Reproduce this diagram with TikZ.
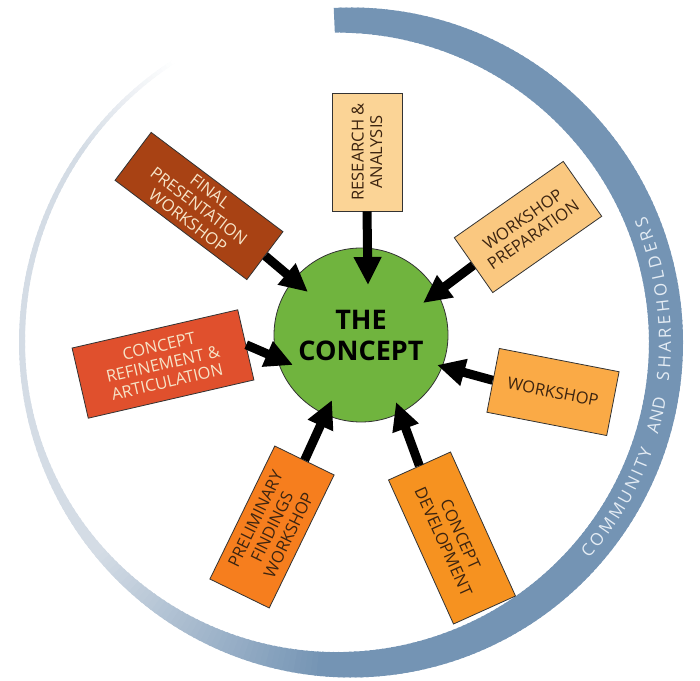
\documentclass[tikz,border=0pt]{standalone}
\usepackage{fontspec}
\setmainfont{Open Sans}
\usetikzlibrary{arrows.meta,calc,decorations.text}
\definecolor{ringblue}{RGB}{116,148,180}
\definecolor{ringgray}{RGB}{212,220,229}
\definecolor{ringtext}{RGB}{228,236,244}
\definecolor{concept}{RGB}{112,180,62}
\definecolor{peche}{RGB}{251,212,150}
\definecolor{sable}{RGB}{250,200,128}
\definecolor{rouille}{RGB}{168,66,20}
\definecolor{brique}{RGB}{224,80,45}
\definecolor{abricot}{RGB}{250,170,70}
\definecolor{orangeA}{RGB}{246,146,32}
\definecolor{orangeB}{RGB}{246,126,30}
\definecolor{brun}{RGB}{60,36,16}
\definecolor{creme}{RGB}{246,228,200}
\begin{document}
\begin{tikzpicture}[x=1pt,y=1pt]
\tikzset{boite/.style={draw=black!80, line width=0.8pt, align=center, inner sep=2pt, text=brun, font=\fontsize{16.5}{18.5}\selectfont},
  fleche/.style={line width=9pt, -{Triangle[length=28pt,width=26pt]}}}
\useasboundingbox (0,0) rectangle (700,680);
\coordinate (O) at (351,337.5);
\foreach \a in {93,92,...,-237}{
  \pgfmathsetmacro\w{(\a)<(-180) ? 6-2*((-180-(\a))/57) : 20+14*cos(\a)+5.5*sin(\a)^2}
  \pgfmathsetmacro\rx{332-\w/2}
  \pgfmathsetmacro\ry{335-\w/2}
  \pgfmathtruncatemacro\pb{(\a)>(-95) ? 100 : max(0,100-((-95-(\a))/45)*100)}
  \pgfmathtruncatemacro\pw{(\a)>(-215) ? 100 : max(0,100-((-215-(\a))/22)*100)}
  \draw[line width=\w pt, color={ringblue!\pb!ringgray!\pw!white}] ($(O)+(\a:\rx pt and \ry pt)$) arc[start angle=\a, end angle=\a-1.4, x radius=\rx pt, y radius=\ry pt];
}
\foreach \mot/\deb/\fin in {COMMUNITY/-42/-19.5, AND/-16.5/-10, SHAREHOLDERS/-7/23}{
  \path[decorate, decoration={text along path, text align={fit to path},
    text={|\fontsize{17}{17}\selectfont\color{ringtext}|\mot}}]
    ($(O)+(\deb:320 and 323)$) arc[start angle=\deb, end angle=\fin, x radius=320, y radius=323];
}
\node[circle, draw=black!80, line width=0.8pt, fill=concept, minimum size=174pt, align=center, font=\fontsize{27}{31}\selectfont\bfseries] (C) at (361,345) {THE\\CONCEPT};
\node[boite, fill=peche, minimum width=118pt, minimum height=70pt, rotate=90] (B1) at (367,528) {RESEARCH \&\\ANALYSIS};
\node[boite, fill=sable, minimum width=133pt, minimum height=67pt, rotate=35] (B2) at (528,453) {WORKSHOP\\PREPARATION};
\node[boite, fill=abricot, minimum width=122pt, minimum height=65pt, rotate=-11] (B3) at (553,288) {WORKSHOP};
\node[boite, fill=orangeA, minimum width=158pt, minimum height=68pt, rotate=-65.7] (B4) at (452,142) {CONCEPT\\DEVELOPMENT};
\node[boite, fill=orangeB, minimum width=148pt, minimum height=66pt, rotate=64] (B5) at (272,153) {PRELIMINARY\\FINDINGS\\WORKSHOP};
\node[boite, fill=brique, text=creme, minimum width=170pt, minimum height=72pt, rotate=13] (B6) at (163,316) {CONCEPT\\REFINEMENT \&\\ARTICULATION};
\node[boite, fill=rouille, text=creme, minimum width=165pt, minimum height=60pt, rotate=-37] (B7) at (199,474) {FINAL\\PRESENTATION\\WORKSHOP};
\coordinate (T1) at (368,395);
\coordinate (T2) at (423,377);
\coordinate (T3) at (437,315);
\coordinate (T4) at (396,278);
\coordinate (T5) at (332,280);
\coordinate (T6) at (293,315);
\coordinate (T7) at (308,388);
\draw[fleche] (B1.west) -- (T1);
\draw[fleche] (B2.west) -- (T2);
\draw[fleche] (B3.west) -- (T3);
\draw[fleche] (B4.west) -- (T4);
\draw[fleche] (B5.east) -- (T5);
\draw[fleche] (B6.east) -- (T6);
\draw[fleche] (B7.east) -- (T7);
\end{tikzpicture}
\end{document}
